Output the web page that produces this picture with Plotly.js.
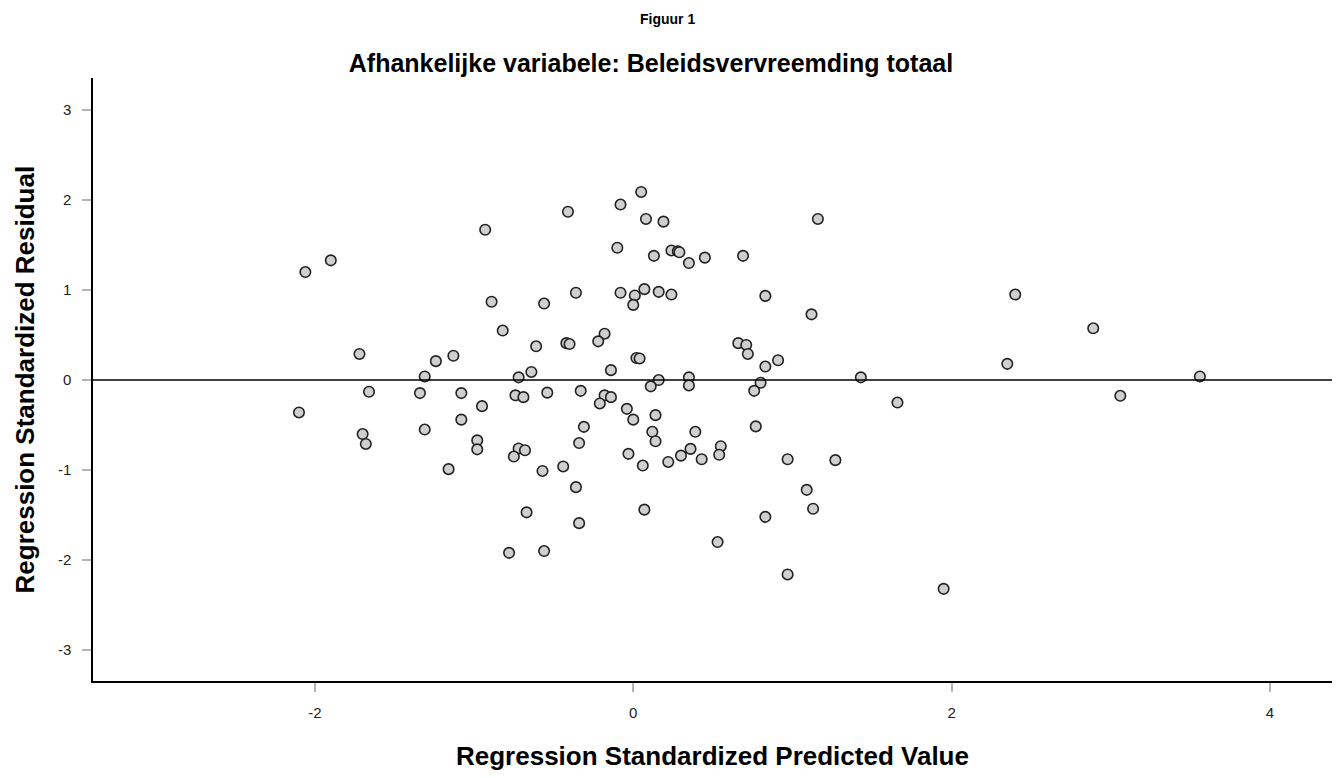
<!DOCTYPE html>
<html>
<head>
<meta charset="utf-8">
<script src="https://cdn.plot.ly/plotly-3.0.1.min.js"></script>
<style>html,body{margin:0;padding:0;background:#fff;}#chart{width:1341px;height:778px;}</style>
</head>
<body>
<div id="chart"></div>
<script>
// Regression Standardized Predicted Value
const predicted = [
  -2.06,-1.90,-1.72,-1.31,-1.24,-1.13,-0.93,-0.89,-0.82,-0.56,-0.61,-0.64,-0.72,-1.66,-1.34,-1.08,-0.95,-0.74,-0.69,-2.10,
  -1.70,-1.68,-1.31,-1.08,-0.98,-0.98,-1.16,-0.72,-0.68,-0.75,-0.57,-0.67,-0.78,-0.56,
  0.05,-0.08,-0.41,0.08,0.19,1.16,-0.10,0.13,0.24,0.28,0.29,0.35,0.45,0.69,
  -0.36,-0.08,0.01,0.00,0.07,0.16,0.24,0.83,1.12,
  -0.42,-0.40,-0.18,-0.22,0.66,0.71,0.72,0.91,0.83,1.43,
  -0.14,0.02,0.04,0.16,0.35,0.80,0.11,0.35,0.76,
  -0.54,-0.33,-0.18,-0.14,-0.21,-0.04,0.00,0.14,-0.31,-0.34,0.12,0.14,0.39,0.77,1.66,
  -0.03,0.06,0.22,0.30,0.36,0.43,0.55,0.54,0.97,1.27,
  -0.44,-0.36,-0.34,0.07,0.53,1.09,1.13,0.83,0.97,
  2.40,2.89,2.35,3.56,3.06,1.95
];
// Regression Standardized Residual
const residual = [
  1.20,1.33,0.29,0.04,0.21,0.27,1.67,0.87,0.55,0.85,0.375,0.09,0.03,-0.13,-0.145,-0.145,-0.29,-0.17,-0.19,-0.36,
  -0.60,-0.71,-0.55,-0.44,-0.67,-0.77,-0.99,-0.76,-0.78,-0.85,-1.01,-1.47,-1.92,-1.90,
  2.09,1.95,1.87,1.79,1.76,1.79,1.47,1.38,1.44,1.43,1.42,1.30,1.36,1.38,
  0.97,0.97,0.94,0.835,1.01,0.98,0.95,0.935,0.73,
  0.41,0.40,0.515,0.43,0.41,0.39,0.29,0.22,0.15,0.03,
  0.11,0.245,0.24,0.0,0.03,-0.03,-0.07,-0.06,-0.12,
  -0.14,-0.12,-0.17,-0.19,-0.26,-0.32,-0.44,-0.39,-0.52,-0.70,-0.575,-0.68,-0.575,-0.515,-0.25,
  -0.82,-0.95,-0.91,-0.84,-0.765,-0.88,-0.735,-0.83,-0.88,-0.89,
  -0.96,-1.19,-1.59,-1.44,-1.80,-1.22,-1.43,-1.52,-2.16,
  0.95,0.575,0.18,0.04,-0.175,-2.32
];
const xTicks = [-2, 0, 2, 4];
const yTicks = [-3, -2, -1, 0, 1, 2, 3];
const referenceLevel = 0;

const FONT = 'Liberation Sans, Arial, sans-serif';

const trace = {
  type: 'scatter',
  mode: 'markers',
  x: predicted,
  y: residual,
  marker: {symbol: 'circle', size: 10.5, color: '#cfcfcf', line: {color: '#222222', width: 1.6}},
  hoverinfo: 'x+y',
  showlegend: false
};

const layout = {
  width: 1341,
  height: 778,
  margin: {l: 93, r: 9, t: 78, b: 97, pad: 0},
  paper_bgcolor: '#ffffff',
  plot_bgcolor: '#ffffff',
  font: {family: FONT, color: '#222222', size: 15},
  title: {
    text: '<b>Afhankelijke variabele: Beleidsvervreemding totaal</b>',
    font: {family: FONT, size: 25, color: '#000000'},
    xref: 'container', yref: 'container',
    x: 651 / 1341, y: 1 - 63 / 778,
    xanchor: 'center', yanchor: 'middle'
  },
  xaxis: {
    range: [-3.394, 4.39],
    tickvals: xTicks,
    ticktext: xTicks.map(String),
    showgrid: false, zeroline: false,
    showline: true, linecolor: '#000000', linewidth: 1.5,
    ticks: 'outside', ticklen: 9, tickwidth: 1.5, tickcolor: '#b4b4b4',
    tickfont: {family: FONT, size: 15, color: '#222222'},
    ticklabelstandoff: 8,
    fixedrange: true
  },
  yaxis: {
    range: [-3.344, 3.356],
    tickvals: yTicks,
    ticktext: yTicks.map(String),
    showgrid: false, zeroline: false,
    showline: true, linecolor: '#000000', linewidth: 1.5,
    ticks: 'outside', ticklen: 9, tickwidth: 1.5, tickcolor: '#b4b4b4',
    tickfont: {family: FONT, size: 15, color: '#222222'},
    ticklabelstandoff: 8,
    fixedrange: true
  },
  shapes: [{
    type: 'line', xref: 'paper', yref: 'y',
    x0: 0, x1: 1, y0: referenceLevel, y1: referenceLevel,
    line: {color: '#000000', width: 1.5}
  }],
  annotations: [
    {text: '<b>Figuur 1</b>', xref: 'paper', yref: 'paper', x: (667 - 93) / 1239, y: (681 - 19) / 603,
     xanchor: 'center', yanchor: 'middle', showarrow: false,
     font: {family: FONT, size: 14, color: '#000000'}},
    {text: '<b>Regression Standardized Residual</b>', xref: 'paper', yref: 'paper', x: -0.0549, y: 0.5,
     xanchor: 'center', yanchor: 'middle', textangle: -90, showarrow: false,
     font: {family: FONT, size: 26, color: '#000000'}},
    {text: '<b>Regression Standardized Predicted Value</b>', xref: 'paper', yref: 'paper', x: 0.5, y: (681 - 756) / 603,
     xanchor: 'center', yanchor: 'middle', showarrow: false,
     font: {family: FONT, size: 26, color: '#000000'}}
  ]
};

Plotly.newPlot('chart', [trace], layout, {displayModeBar: false});
</script>
</body>
</html>
